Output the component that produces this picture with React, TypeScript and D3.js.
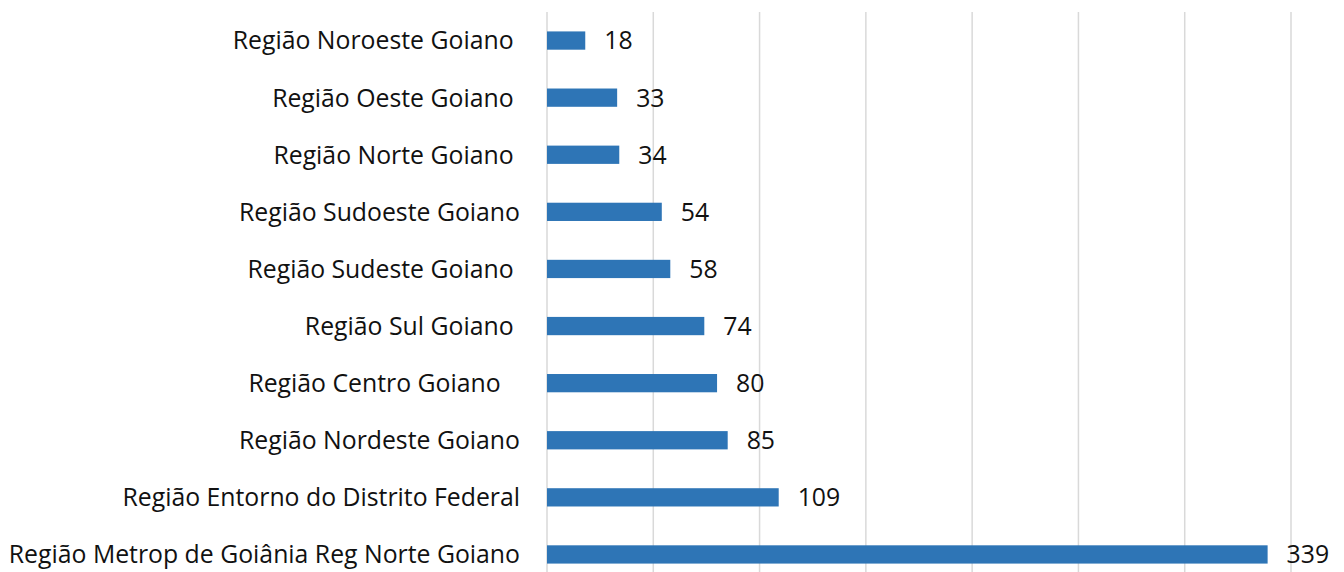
import React from 'react';
import * as d3 from 'd3';

// categories top to bottom (trailing spaces kept as in the source)
const regions = [
  'Região Noroeste Goiano ',
  'Região Oeste Goiano ',
  'Região Norte Goiano ',
  'Região Sudoeste Goiano',
  'Região Sudeste Goiano ',
  'Região Sul Goiano ',
  'Região Centro Goiano   ',
  'Região Nordeste Goiano',
  'Região Entorno do Distrito Federal',
  'Região Metrop de Goiânia Reg Norte Goiano',
];
const counts = [18, 33, 34, 54, 58, 74, 80, 85, 109, 339];
const gridTicks = [0, 50, 100, 150, 200, 250, 300, 350];

const W = 1344;
const H = 572;
const FONT = '"Open Sans", "Noto Sans", sans-serif';

const App = () => {
  const x = d3.scaleLinear().domain([0, 350]).range([547, 1291]);
  const y = d3.scaleBand<string>()
    .domain(regions)
    .range([12, 583])
    .paddingInner(0.68)
    .paddingOuter(0.34);

  return (
    <svg width={W} height={H} style={{ position: 'absolute', left: 0, top: 0, background: '#fff' }}>
      {/* vertical gridlines */}
      {gridTicks.map(t => (
        <line key={t} x1={x(t)} x2={x(t)} y1={12} y2={H} stroke="#d9d9d9" strokeWidth={1.5} />
      ))}
      {regions.map((r, i) => {
        const yy = y(r) as number;
        const bh = y.bandwidth();
        return (
          <g key={r}>
            <rect x={x(0)} y={yy} width={x(counts[i]) - x(0)} height={bh} fill="#2e75b6" />
            <text
              x={520}
              y={yy + bh / 2}
              dy="0.36em"
              textAnchor="end"
              fontFamily={FONT}
              fontSize={24.8}
              fill="#111"
              style={{ whiteSpace: 'pre' }}
            >
              {r}
            </text>
            <text
              x={x(counts[i]) + 19}
              y={yy + bh / 2}
              dy="0.36em"
              fontFamily={FONT}
              fontSize={24.8}
              fill="#111"
            >
              {counts[i]}
            </text>
          </g>
        );
      })}
    </svg>
  );
};

export default App;
